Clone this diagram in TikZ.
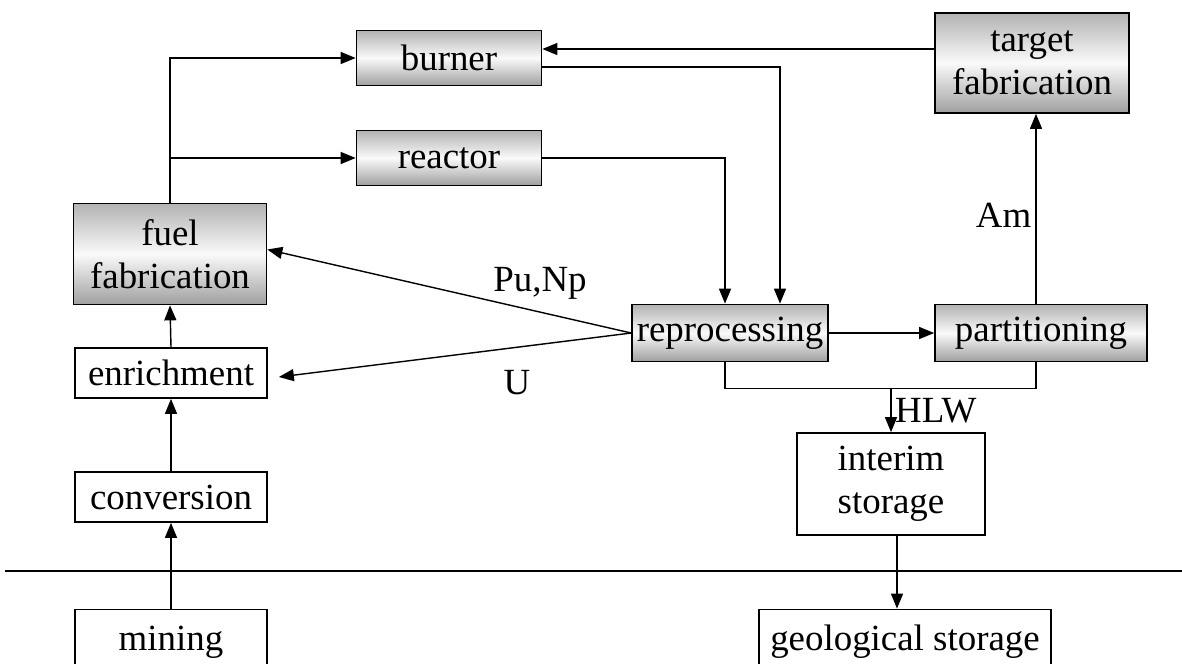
\documentclass[tikz,border=0pt]{standalone}
\usepackage{fontspec}
\setmainfont{Liberation Serif}
\usetikzlibrary{arrows.meta}

\begin{document}
\begin{tikzpicture}[x=0.02cm, y=-0.02cm, font=\fontsize{21}{24.5}\selectfont]
  \tikzstyle{stage} = [rectangle, draw, line width = 1pt, align = center, inner sep = 0pt]
  \tikzstyle{shaded} = [stage, top color = gray!60, bottom color = gray!75, middle color = gray!4]
  \tikzstyle{arrow} = [line width = 0.8pt, -{Triangle[length = 0.3cm, width = 0.24cm]}]
  \tikzstyle{link} = [line width = 0.8pt]

  \clip (0,0) rectangle (1182,663);

  % Draw shaded stages
  \node[shaded, minimum width = 3.7cm, minimum height = 1.1cm] (burner) at (449,58) {burner};
  \node[shaded, minimum width = 3.7cm, minimum height = 1.1cm] (reactor) at (449,158) {reactor};
  \node[shaded, minimum width = 3.88cm, minimum height = 2cm] (target) at (1032,63) {target\\fabrication};
  \node[shaded, minimum width = 3.86cm, minimum height = 2.02cm] (fuel) at (170,254) {fuel\\fabrication};
  \node[shaded, minimum width = 3.92cm, minimum height = 1.14cm] (repro) at (730,333) {reprocessing};
  \node[shaded, minimum width = 4.24cm, minimum height = 1.14cm] (part) at (1041,333) {partitioning};

  % Draw plain stages
  \node[stage, minimum width = 3.84cm, minimum height = 1cm] (enrich) at (171,373) {enrichment};
  \node[stage, minimum width = 3.84cm, minimum height = 1cm] (conv) at (171,497) {conversion};
  \node[stage, minimum width = 3.76cm, minimum height = 2.04cm] (interim) at (891,484) {interim\\storage};
  \node[stage, minimum width = 3.84cm, minimum height = 1.3cm] (mining) at (171,642) {mining};
  \node[stage, minimum width = 5.84cm, minimum height = 1.3cm] (geo) at (905,642) {geological storage};

  % Ground level
  \draw[line width = 1pt] (5,571) -- (1182,571);

  % Front end
  \draw[arrow] (mining.north) -- (conv.south);
  \draw[arrow] (conv.north) -- (enrich.south);
  \draw[arrow] (enrich.north) -- (fuel.south);
  \draw[arrow] (fuel.north) |- (burner.west);
  \draw[arrow] (fuel.north |- reactor.west) -- (reactor.west);

  % Reactors to reprocessing
  \draw[arrow] ([yshift = 0.28cm]target.west) -- ([yshift = 0.28cm]target.west -| burner.east);
  \draw[arrow] ([yshift = -0.18cm]burner.east) -| ([xshift = 1cm]repro.north);
  \draw[arrow] (reactor.east) -| ([xshift = -0.1cm]repro.north);

  % Recycling
  \draw[arrow] (repro.west) -- ([yshift = 0.09cm]fuel.east);
  \draw[arrow] (repro.west) -- ([xshift = 0.22cm, yshift = -0.08cm]enrich.east);
  \node (punp) at (540,283) {Pu,Np};
  \node (ulabel) at (517,383) {U};
  \draw[arrow] (repro.east) -- (part.west);
  \draw[arrow] ([xshift = -0.1cm]part.north) -- ([xshift = -0.1cm]part.north |- target.south)
    node[midway, left, xshift = 1pt, yshift = -4pt] (am) {Am};

  % Waste
  \draw[link] ([xshift = -0.1cm]repro.south) -- ++(0,26) coordinate (bus) -| ([xshift = -0.1cm]part.south);
  \draw[arrow] (bus -| interim.north) -- (interim.north) node[midway, right, inner sep = 2pt] (hlw) {HLW};
  \draw[arrow] ([xshift = 0.12cm]interim.south) -- ([xshift = 0.12cm]interim.south |- geo.north);

\end{tikzpicture}
\end{document}
